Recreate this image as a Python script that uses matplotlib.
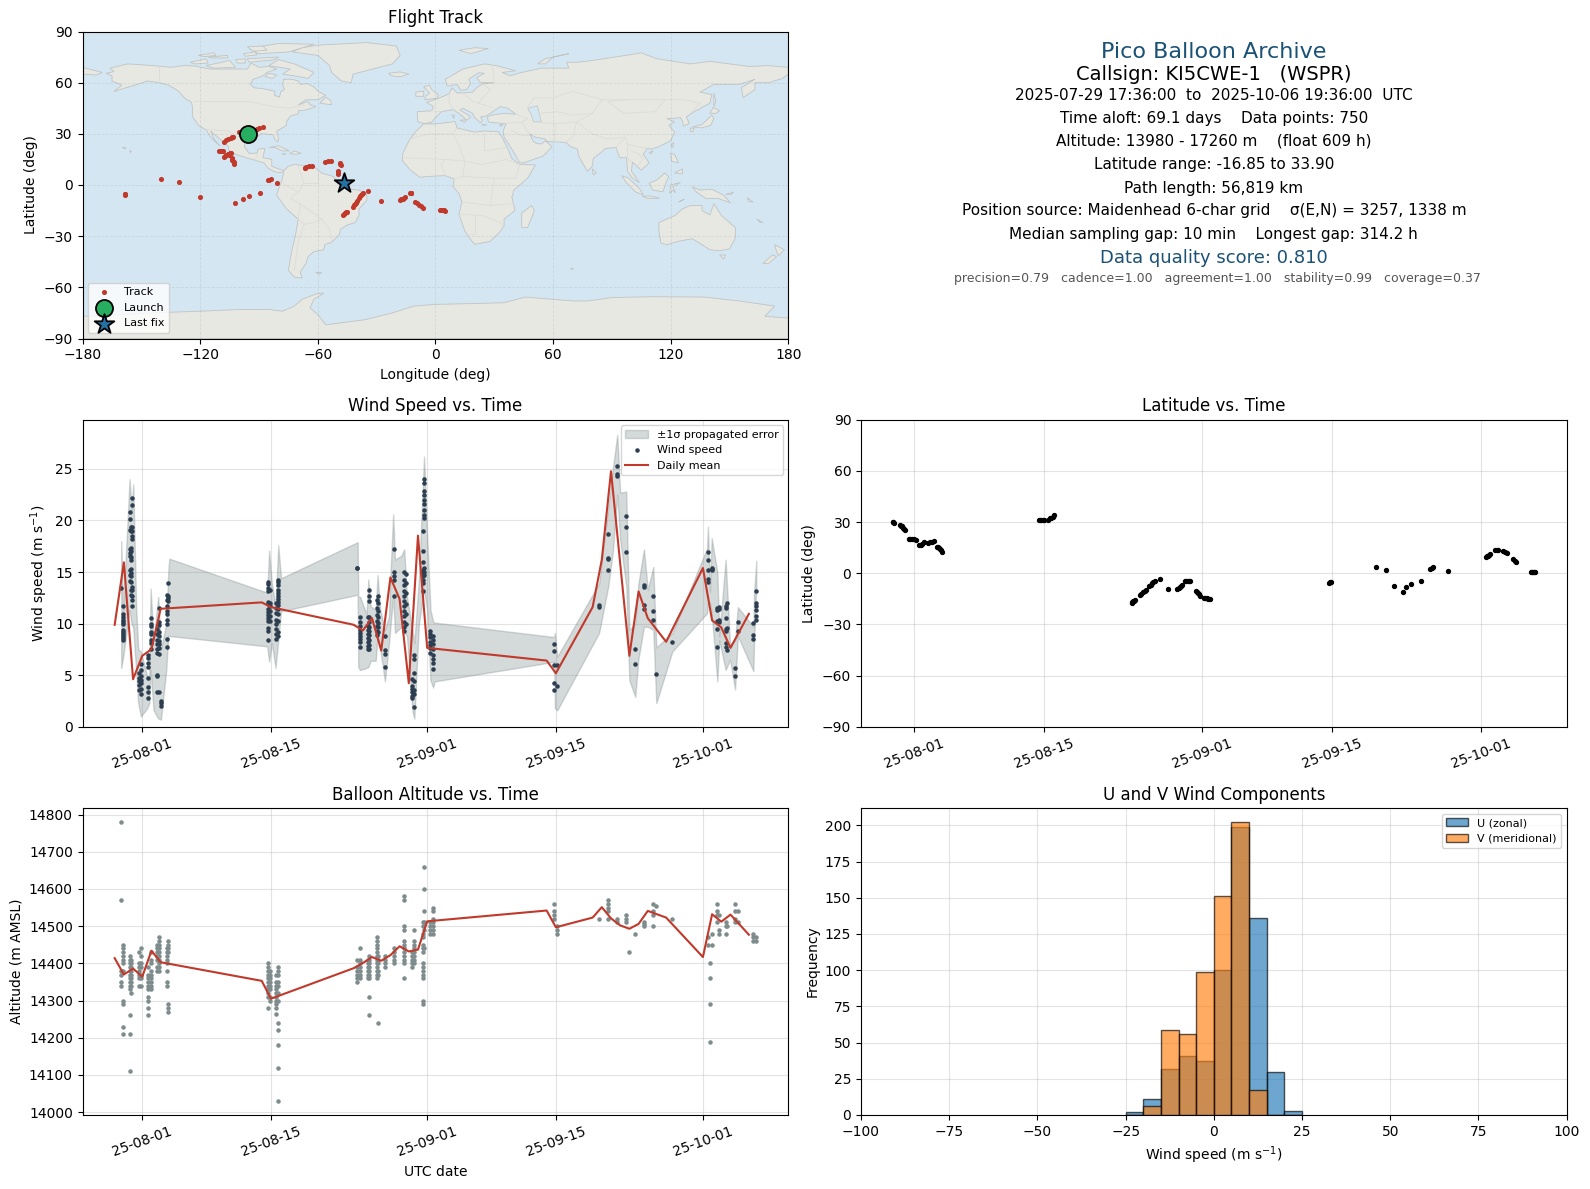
from datetime import datetime

import matplotlib

matplotlib.use("Agg")
import matplotlib.dates as mdates
import matplotlib.pyplot as plt
from matplotlib.patches import Polygon
from matplotlib.ticker import MultipleLocator

# days are counted from 2025-08-01 00:00 UTC
mean_days = [-3, -2, -1, 0, 1, 2, 13, 14, 23, 24, 25, 26, 27, 28, 29, 30, 31, 44, 45, 49, 50, 51, 52, 53, 54, 55, 57, 61, 62, 63, 64, 66]
wind_mean = [9.89, 15.94, 4.61, 6.88, 7.52, 11.44, 12.06, 11.6, 9.89, 9.34, 10.53, 7.39, 14.48, 12.38, 4.22, 18.53, 7.65,
             6.42, 5.19, 11.6, 16.2, 24.77, 15.84, 6.88, 13.12, 10.53, 8.24, 15.39, 10.31, 9.63, 7.65, 10.95]
alt_mean = [14414, 14370, 14386, 14364, 14434, 14403, 14353, 14305, 14387, 14401, 14417, 14407, 14422, 14446, 14432, 14437, 14513,
            14542, 14497, 14523, 14551, 14521, 14502, 14493, 14506, 14541, 14523, 14417, 14532, 14512, 14531, 14477]

wind_columns = [
    (-2.29, [13.5]),
    (-2.14, [11.7, 10.9, 10.6, 10.4, 10.2, 10.0, 9.4, 9.2, 9.0, 8.8, 8.6, 8.4]),
    (-1.38, [20.8, 20.1, 19.1, 17.2, 16.8, 16.6, 15.2, 14.7, 14.1]),
    (-1.23, [19.4, 19.0, 17.3, 17.0, 16.5, 16.2, 15.3, 14.9, 14.6, 14.0, 13.3, 12.8]),
    (-1.09, [22.2, 21.5, 19.4, 19.0, 18.5, 18.2, 13.6, 13.3, 12.7, 12.3, 11.7]),
    (-0.36, [5.2, 4.7, 4.4, 4.1, 3.6]),
    (-0.18, [6.1, 5.5, 4.9, 4.5, 4.2, 3.7, 3.2]),
    (0.65, [7.0, 6.7, 6.2, 5.8, 4.7, 3.9, 3.4, 2.8]),
    (0.91, [10.5, 10.0, 9.8, 9.2, 9.0, 8.4, 8.1, 7.5]),
    (1.63, [9.5, 9.0, 8.4, 8.0, 7.5, 7.2, 5.0, 4.9, 3.4]),
    (1.81, [11.5, 10.2, 9.9, 9.2, 8.8, 8.3, 8.0, 7.6, 7.1, 3.4]),
    (2.0, [2.5, 2.3, 2.0]),
    (2.65, [12.8, 12.3, 11.7, 11.2, 10.9, 10.4, 10.0, 8.5, 7.7]),
    (2.83, [13.9, 12.7, 12.5, 12.2]),
    (13.64, [14.0, 13.8, 13.5, 13.2, 12.1, 11.9, 11.4, 11.1, 10.8, 10.5, 10.3, 9.6, 9.3, 8.4]),
    (13.86, [13.3, 12.0, 11.7, 11.2, 10.7, 10.3]),
    (14.59, [12.0, 11.5, 11.0, 10.4, 10.0, 9.5, 9.0, 8.5]),
    (14.8, [14.2, 14.0, 13.7, 13.3, 13.0, 12.7, 12.4, 12.1, 11.8, 11.4, 10.9, 10.3, 9.2, 8.8]),
    (23.4, [15.4, 15.4]),
    (23.7, [10.6, 10.2, 9.8, 9.4, 9.1, 8.8, 8.5, 8.2, 7.7]),
    (24.53, [10.6, 9.8, 9.4, 9.0, 8.6, 8.2, 7.8, 7.5]),
    (24.67, [13.3, 12.7, 12.2, 10.6, 10.2, 9.7, 9.3, 8.9, 8.4, 7.9, 7.5]),
    (25.5, [12.3, 11.5, 10.8, 10.3, 9.8, 9.3, 8.9]),
    (25.7, [12.7, 12.0, 11.2, 10.6, 10.1, 9.7, 9.2]),
    (26.4, [8.8, 7.4, 7.1, 5.8]),
    (27.4, [17.2, 15.0, 14.6, 14.2, 12.7]),
    (28.5, [15.0, 14.2, 13.7, 13.2, 12.7, 12.2, 11.7, 11.2, 10.7, 10.2, 9.7, 9.3]),
    (28.66, [14.8, 13.9, 13.0, 11.9, 10.9, 10.0]),
    (29.4, [4.6, 4.0, 3.7, 3.4, 3.0, 2.8]),
    (29.6, [7.0, 6.6, 5.2, 4.4, 3.6, 3.2, 1.9]),
    (30.5, [19.0, 17.0, 16.0, 15.2, 14.9, 14.6, 14.2, 13.9, 13.2]),
    (30.66, [24.0, 23.6, 22.9, 22.5, 22.0, 21.6, 21.0, 20.5, 20.2, 15.4, 15.0, 14.7]),
    (31.36, [9.3, 9.0, 8.7, 8.2, 7.9, 7.6, 7.2]),
    (31.58, [8.8, 8.4, 8.0, 7.5, 7.0, 6.6, 6.2, 5.6]),
    (44.82, [8.0, 7.3, 6.0, 4.2, 3.6]),
    (45.15, [6.0, 4.0]),
    (49.72, [11.6, 11.8]),
    (50.7, [18.7, 16.4, 16.3, 15.2]),
    (51.68, [25.3, 24.5, 24.3]),
    (52.66, [20.4, 19.4, 16.9]),
    (53.64, [7.5, 6.1]),
    (54.58, [13.7, 13.6, 11.8, 11.4]),
    (55.6, [12.7, 11.2, 10.4]),
    (55.93, [5.1]),
    (57.67, [8.2]),
    (61.55, [16.9, 16.2, 15.2, 14.3, 14.0]),
    (61.95, [15.4, 15.3, 15.2]),
    (62.57, [11.5, 11.3, 10.3, 9.5, 7.7]),
    (62.78, [11.6, 11.4, 10.4, 10.2]),
    (63.47, [11.7, 11.5, 10.5, 9.5, 9.3, 8.1, 7.7]),
    (63.58, [12.0, 9.6, 7.4]),
    (64.53, [5.7, 4.9]),
    (64.85, [10.2, 9.3]),
    (66.49, [10.1, 8.9, 8.5]),
    (66.81, [13.2, 12.0, 11.7, 11.3, 10.7, 10.4]),
]

alt_columns = [
    (-2.29, [14780, 14570, 14380, 14370, 14350, 14340]),
    (-2.14, [14450, 14440, 14430, 14420, 14410, 14400, 14380, 14300, 14290, 14230, 14210]),
    (-1.38, [14420, 14410, 14400, 14390, 14380, 14370, 14360, 14350, 14340, 14330, 14260, 14210, 14110]),
    (-1.23, [14410, 14400, 14390, 14380, 14370, 14360, 14350, 14340, 14320]),
    (-0.36, [14430, 14400, 14390, 14380, 14370, 14360, 14340]),
    (-0.18, [14440, 14420, 14400, 14390, 14370, 14360, 14340]),
    (0.65, [14390, 14370, 14360, 14350, 14340, 14330, 14310, 14300, 14280, 14260]),
    (0.91, [14430, 14410, 14400, 14380, 14370, 14360, 14350, 14340, 14330]),
    (1.63, [14450, 14440, 14430, 14420, 14410, 14390, 14380]),
    (1.81, [14470, 14460, 14450, 14440, 14430, 14420, 14410, 14400, 14390, 14380]),
    (2.65, [14440, 14430, 14420, 14410, 14400, 14380, 14350, 14340]),
    (2.83, [14460, 14450, 14440, 14430, 14290, 14280, 14270]),
    (13.64, [14400, 14390, 14380, 14370, 14360, 14350, 14340, 14330, 14320, 14310, 14280]),
    (13.86, [14380, 14370, 14360, 14350, 14340, 14330, 14310, 14300]),
    (14.59, [14370, 14350, 14340, 14330, 14320, 14310, 14300, 14290, 14280, 14265]),
    (14.8, [14390, 14380, 14370, 14350, 14340, 14320, 14300, 14240, 14220, 14180, 14120, 14030]),
    (23.4, [14350, 14360, 14370, 14380, 14390, 14410]),
    (23.7, [14440, 14410, 14400, 14390, 14380, 14370, 14360]),
    (24.53, [14410, 14400, 14390, 14380, 14370, 14360]),
    (24.67, [14420, 14410, 14400, 14390, 14380, 14370, 14360, 14310, 14260]),
    (25.5, [14470, 14460, 14450, 14440, 14430, 14420, 14410, 14400, 14390, 14380, 14370, 14360]),
    (25.7, [14420, 14410, 14400, 14380, 14370, 14240]),
    (26.4, [14420, 14410, 14400, 14390]),
    (27.4, [14440, 14430, 14420, 14410, 14400]),
    (28.5, [14580, 14570, 14500, 14490, 14460, 14450, 14440, 14430, 14420, 14410, 14400, 14360]),
    (29.4, [14430, 14420, 14410, 14400, 14390]),
    (29.6, [14490, 14460, 14450, 14440, 14430, 14420, 14410, 14400]),
    (30.5, [14510, 14500, 14480, 14470, 14450, 14440, 14430, 14400, 14390, 14380, 14370, 14360, 14300, 14290]),
    (30.66, [14660, 14600, 14540, 14510, 14490, 14440]),
    (31.36, [14510, 14500, 14490, 14480]),
    (31.58, [14550, 14540, 14520, 14510, 14500, 14490, 14480]),
    (44.82, [14560, 14540, 14530, 14520]),
    (45.15, [14500, 14490, 14480]),
    (49.72, [14520]),
    (50.7, [14570, 14560, 14550, 14540, 14520]),
    (51.68, [14520, 14510]),
    (52.66, [14530, 14520, 14510]),
    (52.99, [14430]),
    (53.64, [14480]),
    (54.58, [14510, 14505, 14500]),
    (55.6, [14560, 14540, 14530, 14500]),
    (55.93, [14555]),
    (57.67, [14520]),
    (61.55, [14470, 14450]),
    (61.77, [14400, 14360, 14290, 14190]),
    (61.95, [14480, 14450]),
    (62.57, [14560, 14540, 14530, 14510]),
    (62.78, [14530, 14490, 14480]),
    (63.47, [14510, 14500, 14480]),
    (63.58, [14500]),
    (64.53, [14560, 14540, 14520, 14510]),
    (64.85, [14540, 14510]),
    (66.49, [14480, 14470, 14460]),
    (66.81, [14470, 14460]),
]

# outline of the grey error band
band_days = [-2.29, -2.07, -1.38, -1.16, -0.98, -0.65, -0.44, -0.15, 0.54, 0.76, 0.91, 1.23, 1.74, 2.03, 2.61, 2.83, 2.94,
             13.6, 13.8, 14.1, 14.5, 14.8, 15.1, 23.44, 23.5, 23.7, 24.4, 24.6, 24.85, 25.4, 25.6, 25.9, 26.4, 26.85, 27.0,
             27.3, 27.5, 28.2, 28.5, 28.8, 29.4, 29.6, 30.1, 30.66, 31.0, 31.36, 31.65, 31.8, 44.82, 44.9, 45.15, 49.7, 50.7,
             51.2, 51.68, 52.0, 52.66, 53.0, 53.64, 53.97, 54.58, 55.0, 55.6, 55.93, 57.67, 61.45, 61.55, 61.77, 61.95, 62.57, 62.78,
             63.47, 63.95, 64.5, 64.8, 66.49, 66.56, 66.81]
band_hi = [18.0, 11.3, 24.0, 21.0, 23.5, 11.3, 7.5, 7.3, 4.9, 4.9, 13.4, 8.4, 12.6, 7.5, 10.0, 15.0, 16.3,
           13.0, 17.1, 13.9, 11.7, 17.6, 14.4, 17.9, 12.6, 12.6, 10.9, 14.3, 11.7, 11.3, 14.7, 11.3, 9.4, 10.7, 14.6,
           20.6, 16.2, 16.6, 17.2, 12.6, 9.4, 8.1, 14.3, 26.2, 18.5, 11.3, 10.2, 10.1, 8.7, 9.1, 6.8, 13.9, 21.2,
           25.0, 28.3, 22.7, 22.8, 9.4, 10.0, 13.8, 17.2, 13.3, 15.5, 7.7, 9.1, 17.3, 19.4, 13.1, 18.3, 15.0, 8.8,
           16.2, 8.0, 8.4, 11.6, 9.7, 12.9, 16.1]
band_lo = [5.7, 6.8, 11.3, 10.0, 9.6, 5.2, 2.3, 1.0, 1.8, 2.3, 5.5, 1.6, 0.8, 0.7, 5.5, 8.8, 8.8,
           7.8, 6.3, 8.1, 5.7, 8.4, 11.2, 12.8, 5.8, 5.5, 5.7, 5.8, 6.4, 6.4, 8.8, 7.5, 4.4, 8.1, 9.7,
           12.6, 9.1, 9.7, 9.2, 8.8, 1.5, 0.8, 10.0, 13.3, 11.3, 4.5, 3.8, 4.4, 6.3, 1.8, 1.6, 9.1, 13.6,
           17.0, 22.5, 18.1, 13.6, 4.5, 2.9, 6.5, 9.7, 9.7, 9.4, 2.3, 7.3, 11.0, 12.0, 12.0, 11.0, 4.4, 8.4,
           5.5, 6.5, 3.6, 8.8, 5.4, 8.1, 13.6]

track_days = [-2.3, -2.25, -2.15, -1.5, -1.4, -1.3, -1.2, -1.1, -1.0, -0.55, -0.4, -0.2, 0.0, 0.15, 0.55, 0.7, 0.9, 1.1, 1.5, 1.7, 1.9, 2.1,
              2.5, 2.6, 2.7, 2.8, 2.9, 3.03, 13.4, 13.55, 13.7, 13.85, 14.0, 14.45, 14.6, 14.75, 14.9, 15.05, 23.4, 23.5, 23.6, 23.7, 23.8, 24.3, 24.45, 24.6, 24.8, 25.0,
              25.3, 25.45, 25.6, 25.75, 25.9, 26.5, 27.35, 28.35, 28.5, 28.6, 28.75, 28.85, 29.15, 29.3, 29.45, 29.6, 29.7, 30.3, 30.4, 30.55, 30.7, 30.8, 31.2, 31.35, 31.5, 31.65, 31.8,
              44.7, 44.8, 44.9, 49.75, 50.75, 51.65, 52.6, 52.9, 53.5, 54.6, 55.5, 55.7, 55.9, 57.5, 61.55, 61.65, 61.75, 61.85, 61.95, 62.55, 62.7, 62.85,
              63.4, 63.6, 63.8, 64.5, 64.65, 64.8, 66.4, 66.5, 66.6, 66.7, 66.8]
track_lat = [30.1, 29.9, 29.5, 28.2, 27.9, 27.6, 26.8, 26.2, 25.2, 20.1, 20.1, 20.0, 20.0, 19.8, 16.3, 16.8, 17.4, 18.2, 17.6, 18.1, 18.5, 19.0,
             15.7, 15.2, 14.8, 14.1, 13.4, 12.2, 31.2, 31.2, 31.2, 31.3, 31.3, 31.5, 32.2, 32.7, 33.3, 33.9, -17.4, -17.0, -16.5, -16.1, -15.7, -12.7, -12.0, -11.2, -10.3, -9.5,
             -7.5, -6.7, -5.9, -5.2, -4.4, -3.5, -9.4, -9.0, -8.5, -8.0, -7.4, -6.8, -4.7, -4.6, -4.5, -4.6, -4.7, -10.2, -10.8, -11.5, -12.3, -13.2, -14.4, -14.5, -14.7, -14.8, -15.0,
             -5.7, -5.3, -5.0, 3.5, 2.0, -7.3, -10.8, -8.2, -6.5, -4.7, 2.7, 3.1, 3.5, 1.2, 9.8, 10.1, 10.4, 10.9, 11.4, 13.7, 13.8, 13.8,
             13.1, 12.5, 11.9, 8.2, 7.3, 6.4, 0.7, 0.6, 0.6, 0.7, 0.7]
track_lon = [-96.0, -95.9, -95.4, -103.5, -104.0, -104.5, -106.0, -106.8, -108.0, -110.5, -110.0, -109.5, -109.0, -108.5, -108.0, -107.5, -106.8, -106.0, -105.5, -105.2, -104.9, -104.5,
             -104.0, -103.8, -103.6, -103.3, -103.0, -102.7, -100.0, -99.0, -98.0, -97.0, -96.0, -94.0, -92.5, -91.2, -89.8, -88.2, -47.3, -46.8, -46.2, -45.7, -45.3, -42.0, -41.5, -41.0, -40.5, -40.0,
             -38.8, -38.3, -37.8, -37.3, -36.8, -34.3, -28.0, -18.0, -17.4, -16.8, -16.2, -15.5, -12.8, -12.7, -12.5, -12.4, -12.3, -10.3, -9.4, -8.5, -7.5, -6.5, 2.4, 3.0, 3.6, 4.3, 5.0,
             -158.5, -158.3, -158.2, -139.8, -130.7, -120.0, -102.2, -98.3, -95.2, -89.5, -85.6, -84.8, -84.0, -80.8, -66.6, -66.3, -66.0, -64.5, -63.0, -56.5, -55.0, -53.5,
             -48.8, -48.5, -48.3, -49.5, -49.7, -49.8, -47.2, -47.1, -47.0, -47.0, -47.0]

launch_lon, launch_lat = -95.8, 30.0
last_lon, last_lat = -46.9, 1.0

hist_edges = [-25, -20, -15, -10, -5, 0, 5, 10, 15, 20, 25]
u_counts = [2, 11, 32, 41, 37, 100, 199, 136, 30, 3]
v_counts = [0, 6, 59, 56, 99, 151, 202, 17, 0, 0]

date_ticks = [datetime(2025, 8, 1), datetime(2025, 8, 15), datetime(2025, 9, 1), datetime(2025, 9, 15), datetime(2025, 10, 1)]

land_polys = [
    # North America
    [(-168, 65.5), (-164, 66.5), (-166, 68.5), (-157, 71), (-150, 70.5), (-141, 69.7), (-135, 69), (-128, 70), (-123, 69.8), (-115, 68),
     (-108, 68), (-101, 68), (-96, 68), (-94, 71.5), (-90, 69), (-85, 69.5), (-81, 68), (-86, 66), (-88, 64), (-93, 62), (-94.5, 59),
     (-92.5, 57), (-88, 56.5), (-82, 55), (-82, 52.5), (-79.5, 51.5), (-79, 54.5), (-77, 56), (-78, 59), (-77.5, 62), (-73, 62), (-70, 61),
     (-69, 59), (-65.5, 59.5), (-62, 57.5), (-60, 55), (-56, 52.5), (-60, 50), (-66, 50), (-70, 47), (-65, 49), (-64, 47), (-61, 46),
     (-66, 44), (-70, 43.5), (-70, 41.7), (-74, 40.5), (-76, 37), (-76, 35), (-81, 31.5), (-80, 27), (-80.5, 25.2), (-82, 27), (-83, 29.5),
     (-85, 29.7), (-89, 30.2), (-90, 29), (-94, 29.5), (-97, 27.5), (-97.5, 22.5), (-95, 18.5), (-91, 18.7), (-90.5, 21), (-87, 21.5),
     (-88, 16), (-83.5, 15), (-83.5, 11), (-79.5, 9.2), (-77.3, 8.5), (-78, 7.5), (-80.5, 7.3), (-83, 8.3), (-85.5, 10), (-87.5, 13),
     (-92, 14.5), (-96, 15.8), (-102, 18), (-105.5, 20.5), (-105.5, 22.5), (-109, 26), (-112.5, 29.5), (-114.7, 31.5), (-113, 27), (-110, 23),
     (-112, 25), (-115, 28.5), (-117, 32.5), (-120.5, 34.5), (-124, 40), (-124, 46), (-124.5, 48.5), (-128, 51), (-131, 55), (-136, 58.5),
     (-141, 60), (-147, 61), (-152, 59), (-158, 57), (-164, 54.8), (-160, 58.5), (-165, 61), (-165, 64)],
    # South America
    [(-77.3, 8.5), (-75, 11), (-72, 12), (-68, 11.5), (-62, 10.7), (-58, 7), (-52, 5), (-50, 1), (-44, -2.5), (-39, -3), (-35, -5.5), (-35, -9),
     (-39, -14), (-39, -18), (-41, -22), (-45, -23.5), (-48.5, -26), (-49, -29), (-53, -33.5), (-56.5, -35), (-57, -38), (-62, -39), (-65, -42),
     (-66, -46), (-69, -51), (-68, -54.5), (-72, -54), (-75, -50), (-74, -43), (-73, -37), (-71.5, -30), (-70, -20), (-76, -14), (-81, -6),
     (-80, -2), (-78.5, 2), (-77.5, 7)],
    # Africa
    [(-6, 35.8), (0, 35.8), (10, 37.2), (11, 33.5), (15, 32.3), (20, 31), (25, 31.7), (32, 31.2), (34, 28), (37, 21), (39, 15.5), (43, 12),
     (51, 11.8), (47, 4), (40, -3), (39, -7), (40.5, -15), (35, -20), (35, -24), (32.5, -28), (28, -33), (20, -34.8), (18, -32), (15, -27),
     (12, -17), (13.5, -10), (12, -5), (9, -1), (9.5, 3.5), (5, 5.5), (-4, 5), (-8, 4.5), (-13, 9), (-17, 14.5), (-16.5, 19), (-13, 27),
     (-9.5, 32)],
    # Eurasia
    [(-9, 37), (-9.3, 43), (-2, 43.5), (-1, 46), (-4.5, 48.5), (2, 51), (7, 53.5), (8.5, 57), (11, 54), (14, 54), (19, 54.5), (21, 57), (24, 59.3),
     (30, 60), (23, 60), (21, 63), (25, 65.5), (22, 65.8), (17, 62), (18, 59.5), (16, 56), (13, 55.5), (11, 59), (6, 58), (5, 62), (14, 68), (25, 71),
     (31, 70), (41, 67), (34, 66), (38, 64), (44, 66), (54, 68.5), (68, 68.5), (67, 72), (73, 72), (80, 73), (100, 76.5), (105, 77.5), (113, 74),
     (130, 71), (140, 72.5), (160, 69.5), (170, 70), (180, 69), (180, 65), (177, 62.5), (170, 60), (163, 60), (163, 56), (157, 51.2), (156, 57),
     (163, 62), (155, 59), (142, 59), (135, 54.5), (141, 53), (140, 48), (132, 43), (128, 40), (129.5, 36), (126.5, 34.5), (126, 37.5), (125, 39.5),
     (121, 39), (118, 39), (122, 37), (119, 35), (122, 31), (120, 26), (114, 22.5), (110, 21), (108, 21.5), (106, 18), (109, 13), (105, 8.7),
     (100.5, 13.5), (100, 8), (104, 1.4), (100.5, 4), (98, 8), (97.5, 16), (94, 16), (92, 22), (87, 21.5), (80.5, 15.5), (80, 11), (77.5, 8), (73, 17),
     (72.5, 21), (69, 22.5), (66.5, 25), (57, 25.5), (56, 27), (51, 28), (48, 30), (50, 25.5), (51.5, 24.5), (54, 24), (56, 26), (59.5, 22.5), (55, 17),
     (45, 13), (43, 13), (39, 21), (35, 28), (34.5, 31.5), (36, 36), (30, 36.5), (27, 37), (26.5, 40), (29, 41), (35, 42), (41, 41.5), (37, 45), (33, 46),
     (28, 42), (26, 40.5), (23, 40), (24, 38), (23, 36.5), (20, 39.5), (19, 42), (14, 45), (12.5, 44), (18, 40), (16, 38), (12, 42), (9, 44.2), (3, 43),
     (0, 39.5), (-2, 36.8), (-5.5, 36)],
    # Chukotka across the date line
    [(-180, 65), (-180, 69), (-175, 67.5), (-170, 66), (-173, 64.5)],
    # Greenland
    [(-73, 78), (-68, 80.5), (-60, 82), (-35, 83.5), (-20, 81.5), (-18, 76), (-22, 71), (-32, 68), (-42, 65), (-43, 60), (-48, 61), (-53, 66), (-54, 70), (-60, 76)],
    # arctic Canada
    [(-80, 73.5), (-72, 71), (-62, 66), (-65, 62.5), (-72, 64), (-78, 65), (-74, 68), (-85, 70)],
    [(-117, 70), (-105, 73), (-102, 69), (-113, 68.5)],
    [(-90, 77), (-75, 78), (-62, 82.5), (-80, 83), (-95, 80)],
    [(-125, 72), (-117, 74), (-116, 71.5), (-123, 71)],
    [(-96, 74), (-80, 75), (-82, 73.5), (-95, 72)],
    [(-116, 75), (-106, 76), (-106, 74.5), (-114, 74.5)],
    [(-59, 48), (-53, 47), (-53.5, 49.5), (-56, 51.5)],
    [(-85, 65.5), (-81, 64.5), (-83, 62.5), (-87, 63.5)],
    [(-102, 73.5), (-97, 74), (-97, 71.5), (-101, 71.5)],
    [(-98, 77), (-92, 78), (-91, 76.3), (-97, 75.5)],
    [(-121, 76), (-113, 77.5), (-112, 76), (-118, 75.3)],
    [(-96, 81), (-88, 81.5), (-86, 79), (-93, 78.5)],
    # north atlantic and europe islands
    [(-24, 65.5), (-18, 66.3), (-13.5, 65), (-18, 63.4), (-22.5, 64)],
    [(-5.5, 50), (1, 51), (1.5, 53), (-2, 56), (-3, 58.5), (-6, 57.5), (-3, 54), (-5, 52)],
    [(-10, 52), (-6, 52), (-6, 55), (-10, 54.5)],
    [(12, 79), (20, 80.5), (27, 80), (18, 77)],
    [(52, 71), (56, 74), (68, 77), (60, 75), (56, 71)],
    [(12.5, 38), (15.5, 38.2), (15, 36.7)],
    [(8.3, 41), (9.7, 41), (9.5, 39)],
    [(23.5, 35.5), (26.3, 35.2), (24.5, 34.9)],
    [(32.5, 35), (34.5, 35.6), (33.5, 34.6)],
    # caribbean and pacific
    [(-85, 22), (-80, 23), (-74.5, 20), (-78, 20), (-82, 22)],
    [(-74.3, 18.5), (-72, 20), (-68.5, 18.5), (-71.5, 18)],
    [(-78.3, 18.4), (-76.3, 18.2), (-77.3, 17.7)],
    [(-156, 20.2), (-155, 19.7), (-155.7, 19)],
    [(-159.8, 22.2), (-157.8, 21.7), (-158.5, 21.2)],
    [(164, -20), (167, -22), (165.5, -21.8)],
    [(159, -7.5), (162, -10), (160, -9.8)],
    # south atlantic and indian ocean
    [(-61, -51.3), (-58, -51.3), (-59.5, -52.3)],
    [(69, -48.8), (70.5, -49), (69.5, -49.6)],
    [(44, -25), (47, -25), (50.5, -15), (49, -12), (44, -16.5)],
    [(80, 9.5), (82, 7), (80.5, 6)],
    # east asia and indonesia
    [(131, 34), (136, 35.5), (141, 41), (142, 39), (140.5, 35), (136, 33.5)],
    [(140, 42), (141.8, 45.5), (145, 43.5), (143, 42)],
    [(130, 33.5), (132, 33), (131, 31), (130, 31.5)],
    [(142, 54), (143, 49), (142, 46), (142, 50)],
    [(120, 23), (121.5, 25), (121, 22)],
    [(109, 19), (111, 20), (110, 18.3)],
    [(120, 18.5), (122, 18), (124, 13), (120.5, 14)],
    [(122, 7), (126, 9.5), (126, 6.5), (123, 7)],
    [(95, 5.5), (98.5, 4), (104, -2), (106, -5.8), (102, -4), (97, 2)],
    [(105.5, -6.5), (110, -6.5), (114.5, -7.8), (108, -7.8)],
    [(109, 1), (113, 3), (117, 7), (119, 5), (117.5, 1), (116, -4), (111, -3)],
    [(119.5, -5), (120, 0), (125, 1.5), (121, -1), (122.5, -4.5), (121, -3)],
    [(131, -1), (135, -3), (141, -2.5), (147, -6), (150.5, -10.5), (144, -7.8), (138, -8), (133, -4)],
    [(124, -10), (127, -8.4), (125, -9.4)],
    [(148, -5.5), (152, -4.2), (151, -5.5)],
    # australia and new zealand
    [(114, -22), (122, -18), (126, -14), (130, -12), (136, -12), (136, -15), (140, -17.5), (142, -11), (146, -18), (153, -25), (153, -31),
     (150, -37.5), (145, -38.5), (140, -38), (136, -35), (131, -31.5), (124, -33), (118, -35), (115, -34), (114, -27)],
    [(145, -41), (148, -41), (147, -43.5)],
    [(173, -35), (178, -38), (175, -41.5), (174, -39)],
    [(172, -41), (174, -42), (170, -46), (167, -46)],
    # antarctica
    [(-180, -90), (-180, -77), (-160, -76), (-145, -75), (-120, -74), (-100, -73), (-85, -73), (-78, -74), (-72, -71), (-68, -67), (-60, -63.5),
     (-57, -63.5), (-62, -67), (-64, -72), (-60, -76), (-56, -82), (-36, -79), (-22, -75), (-11, -71), (0, -70), (20, -69.5), (35, -69), (46, -65.7),
     (70, -68), (78, -68), (90, -66), (110, -65.5), (137, -65.7), (155, -68), (173, -71), (168, -77), (180, -78), (180, -90)],
]
caspian = [(47, 45), (52, 46.5), (53, 42), (54, 37), (50, 37), (49, 41)]

border_lines = [
    [(-123, 49), (-95, 49), (-83, 46), (-75, 45), (-67, 47)],
    [(-141, 69.7), (-141, 60)],
    [(-117, 32.5), (-106, 31.7), (-97, 26)],
    [(-92, 14.5), (-91, 18)],
    [(-70, 11.5), (-67, 1), (-70, -4), (-74, -8), (-69, -11), (-58, -20), (-54, -26), (-53, -33.5)],
    [(-60, 8), (-60, 1), (-67, 1)],
    [(-78.5, 1.5), (-75, -1), (-70, -4)],
    [(-70, -20), (-69, -11)],
    [(-70, -20), (-67, -23), (-70, -33), (-72, -50)],
    [(-58, -20), (-62, -22), (-67, -23)],
    [(-13, 27), (-3, 30), (9, 30), (11, 33.5)],
    [(25, 31.7), (25, 20), (37, 22)],
    [(-16, 16), (5, 15), (15, 14), (24, 12), (36, 15)],
    [(9, 30), (12, 23), (15, 14), (14, 5), (9.5, 3.5)],
    [(5, 5.5), (3, 12), (5, 15)],
    [(14, 5), (30, 4), (41, 4)],
    [(30, 4), (29, -4), (28, -12), (40, -11)],
    [(13.5, -10), (28, -12)],
    [(12, -17), (24, -18), (33, -22), (35, -24)],
    [(20, -18), (20, -29), (17, -29)],
    [(41, 4), (43, 12), (36, 15)],
    [(-2, 43.5), (3, 43)],
    [(7, 53.5), (7, 48), (9, 44.2)],
    [(14, 54), (19, 49), (22, 48), (29, 45.5)],
    [(24, 59.3), (28, 56), (24, 51), (22, 48)],
    [(41, 41.5), (47, 39), (44, 37), (36, 36)],
    [(44, 37), (46, 33), (48, 30)],
    [(39, 32), (44, 29), (48, 29)],
    [(50, 37), (61, 36), (61, 25)],
    [(61, 36), (72, 37), (70, 28), (66.5, 25)],
    [(72, 37), (80, 30), (88, 27), (97, 28), (92, 22)],
    [(97, 28), (98, 24), (105, 22), (108, 21.5)],
    [(47, 45), (50, 51), (60, 51), (70, 55), (85, 50), (98, 50), (117, 50), (127, 50), (135, 48), (131, 43)],
    [(85, 50), (80, 42), (72, 37)],
    [(53, 42), (62, 43), (70, 41), (80, 42)],
    [(98, 50), (88, 49), (96, 42), (112, 43), (117, 50)],
    [(98, 24), (98, 16), (100, 13)],
    [(100, 20), (104, 18), (106, 15), (103, 11)],
    [(30, 60), (29, 70)],
]

COL_LEFT = 82.6
COL2_LEFT = 861
AX_W = 705.7
AX_H = 307
FIG_W = 1590
FIG_H = 1189


def make_ax(fig, left, top):
    return fig.add_axes([left / FIG_W, 1 - (top + AX_H) / FIG_H, AX_W / FIG_W, AX_H / FIG_H])


def day_num(d):
    return mdates.date2num(datetime(2025, 8, 1)) + d


def expand(columns):
    xs, ys = [], []
    for day, values in columns:
        for v in values:
            xs.append(day_num(day))
            ys.append(v)
    return xs, ys


def style_time_axis(ax, lim):
    ax.set_xticks(mdates.date2num(date_ticks))
    ax.xaxis.set_major_formatter(mdates.DateFormatter("%y-%m-%d"))
    ax.tick_params(axis="x", rotation=20)
    ax.set_xlim(day_num(lim[0]), day_num(lim[1]))
    ax.grid(True, alpha=0.35)
    ax.set_axisbelow(True)


def plot_map(ax):
    ax.set_facecolor("#d4e6f1")
    for poly in land_polys:
        ax.add_patch(Polygon(poly, closed=True, facecolor="#e8e8e3", edgecolor="#c0c4c4", linewidth=0.6, zorder=1))
    ax.add_patch(Polygon(caspian, closed=True, facecolor="#d4e6f1", edgecolor="#c0c4c4", linewidth=0.5, zorder=1.1))
    for line in border_lines:
        ax.plot([p[0] for p in line], [p[1] for p in line], color="#dcdcd8", linewidth=0.6, zorder=1.2)
    ax.scatter(track_lon, track_lat, s=7, color="#c0392b", label="Track", zorder=3)
    ax.scatter([launch_lon], [launch_lat], s=150, color="#27ae60", edgecolor="black", linewidth=1.3, label="Launch", zorder=4)
    ax.scatter([last_lon], [last_lat], s=220, marker="*", color="#2471a3", edgecolor="black", linewidth=1.3, label="Last fix", zorder=5)
    ax.set_xlim(-180, 180)
    ax.set_ylim(-90, 90)
    ax.xaxis.set_major_locator(MultipleLocator(60))
    ax.yaxis.set_major_locator(MultipleLocator(30))
    ax.grid(True, color="#8a9a9a", alpha=0.22, linestyle="--", linewidth=0.6, zorder=2)
    ax.set_xlabel("Longitude (deg)")
    ax.set_ylabel("Latitude (deg)")
    ax.set_title("Flight Track", fontsize=12)
    ax.legend(loc="lower left", fontsize=8)


def plot_summary(fig):
    cx = (COL2_LEFT + AX_W / 2) / FIG_W
    lines = [
        (51.8, "Pico Balloon Archive", 16, "#1a5276", 0),
        (74, "Callsign: KI5CWE-1   (WSPR)", 14, "black", 0),
        (96, "2025-07-29 17:36:00  to  2025-10-06 19:36:00  UTC", 11, "black", 0),
        (118, "Time aloft: 69.1 days    Data points: 750", 11, "black", 0),
        (141, "Altitude: 13980 - 17260 m    (float 609 h)", 11, "black", 0),
        (164, "Latitude range: -16.85 to 33.90", 11, "black", 0),
        (188, "Path length: 56,819 km", 11, "black", 0),
        (211, "Position source: Maidenhead 6-char grid    \u03c3(E,N) = 3257, 1338 m", 11, "black", 0),
        (234, "Median sampling gap: 10 min    Longest gap: 314.2 h", 11, "black", 0),
        (258, "Data quality score: 0.810", 13, "#1a5276", 0),
        (278.5, "precision=0.79   cadence=1.00   agreement=1.00   stability=0.99   coverage=0.37", 9, "#555555", 3.5),
    ]
    for y, text, size, color, dx in lines:
        fig.text(cx + dx / FIG_W, 1 - y / FIG_H, text, fontsize=size, color=color, ha="center", va="center")


def plot_wind(ax):
    ax.fill_between([day_num(d) for d in band_days], band_lo, band_hi, color="#7f8c8d", alpha=0.33, label="\u00b11\u03c3 propagated error")
    xs, ys = expand(wind_columns)
    ax.scatter(xs, ys, s=5, color="#2c3e50", label="Wind speed", zorder=3)
    ax.plot([day_num(d) for d in mean_days], wind_mean, color="#c0392b", linewidth=1.5, label="Daily mean", zorder=4)
    style_time_axis(ax, (-6.49, 70.29))
    ax.set_ylim(0, 29.76)
    ax.set_ylabel("Wind speed (m s$^{-1}$)")
    ax.set_title("Wind Speed vs. Time", fontsize=12)
    ax.legend(loc="upper right", fontsize=8)


def plot_lat(ax):
    ax.scatter([day_num(d) for d in track_days], track_lat, s=8, color="black", zorder=3)
    style_time_axis(ax, (-5.72, 70.25))
    ax.set_ylim(-90, 90)
    ax.yaxis.set_major_locator(MultipleLocator(30))
    ax.set_ylabel("Latitude (deg)")
    ax.set_title("Latitude vs. Time", fontsize=12)


def plot_alt(ax):
    xs, ys = expand(alt_columns)
    ax.scatter(xs, ys, s=5, color="#7f8c8d", zorder=3)
    ax.plot([day_num(d) for d in mean_days], alt_mean, color="#c0392b", linewidth=1.5, zorder=4)
    style_time_axis(ax, (-6.49, 70.29))
    ax.set_ylim(13992.5, 14817.5)
    ax.yaxis.set_major_locator(MultipleLocator(100))
    ax.set_ylabel("Altitude (m AMSL)")
    ax.set_xlabel("UTC date")
    ax.set_title("Balloon Altitude vs. Time", fontsize=12)


def plot_hist(ax):
    mids = hist_edges[:-1]
    ax.hist(mids, bins=hist_edges, weights=u_counts, color="#1f77b4", alpha=0.65, edgecolor="black", label="U (zonal)", zorder=3)
    ax.hist(mids, bins=hist_edges, weights=v_counts, color="#ff7f0e", alpha=0.65, edgecolor="black", label="V (meridional)", zorder=3)
    ax.set_xlim(-100, 100)
    ax.set_ylim(0, 212)
    ax.grid(True, alpha=0.35)
    ax.set_axisbelow(True)
    ax.set_ylabel("Frequency")
    ax.set_xlabel("Wind speed (m s$^{-1}$)")
    ax.set_title("U and V Wind Components", fontsize=12)
    ax.legend(loc="upper right", fontsize=8)


def main():
    fig = plt.figure(figsize=(FIG_W / 100, FIG_H / 100), dpi=100)
    plot_map(make_ax(fig, COL_LEFT, 31.5))
    plot_summary(fig)
    plot_wind(make_ax(fig, COL_LEFT, 419.8))
    plot_lat(make_ax(fig, COL2_LEFT, 419.8))
    plot_alt(make_ax(fig, COL_LEFT, 808))
    plot_hist(make_ax(fig, COL2_LEFT, 808))
    fig.savefig("out.png", dpi=100)


main()
